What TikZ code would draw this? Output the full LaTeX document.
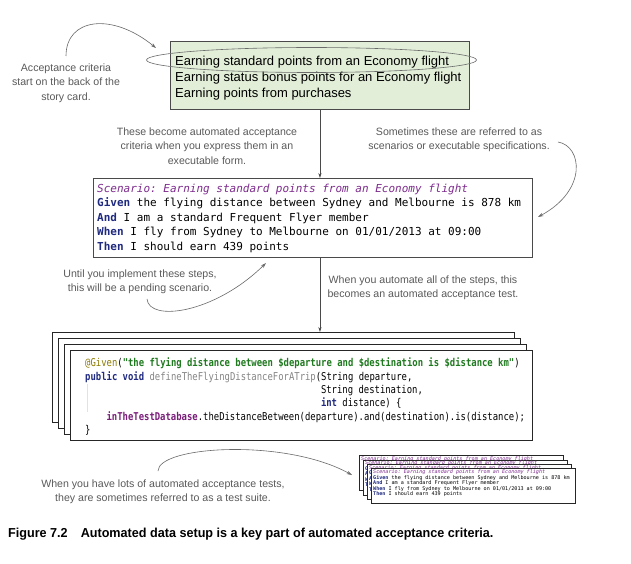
\documentclass[tikz,border=0pt]{standalone}
\usepackage{fontspec}
\setmainfont{Liberation Sans}
\newfontfamily\scenmono{DejaVu Sans Mono}
\newfontfamily\codemono[FakeStretch=0.825]{DejaVu Sans Mono}
\newfontfamily\capfont[FakeStretch=0.97]{Liberation Sans}
\usetikzlibrary{arrows.meta,shapes.geometric}
\frenchspacing
\definecolor{cardgreen}{HTML}{E2EED8}
\definecolor{boxline}{HTML}{4A4A4A}
\definecolor{annot}{HTML}{5A5A5A}
\definecolor{curve}{HTML}{6A6A6A}
\definecolor{scpurple}{HTML}{7E2C8E}
\definecolor{kwblue}{HTML}{1F2A80}
\definecolor{strgreen}{HTML}{1F7A1F}
\definecolor{anncol}{HTML}{8C7A00}
\definecolor{fngray}{HTML}{858585}
\definecolor{dbpurple}{HTML}{7A1E7A}
\definecolor{guide}{HTML}{E2E2E2}
\newcommand{\ScnA}{\textcolor{scpurple}{\itshape Scenario: Earning standard points from an Economy flight}}
\newcommand{\ScnB}{\textcolor{kwblue}{\bfseries Given} the flying distance between Sydney and Melbourne is 878 km}
\newcommand{\ScnC}{\textcolor{kwblue}{\bfseries And} I am a standard Frequent Flyer member}
\newcommand{\ScnD}{\textcolor{kwblue}{\bfseries When} I fly from Sydney to Melbourne on 01/01/2013 at 09:00}
\newcommand{\ScnE}{\textcolor{kwblue}{\bfseries Then} I should earn 439 points}
\newcommand{\ScnLetters}{\textcolor{kwblue}{\bfseries G}\\\textcolor{kwblue}{\bfseries A}\\\textcolor{kwblue}{\bfseries W}\\\textcolor{kwblue}{\bfseries T}}
\begin{document}
\begin{tikzpicture}[x=1pt,y=-1pt,
  note/.style={text=annot,align=center,font=\fontsize{10.6}{14.5}\selectfont,inner sep=0},
  storyline/.style={anchor=base west,inner sep=0,font=\fontsize{13}{16}\selectfont},
  scenline/.style={anchor=base west,inner sep=0,font=\scenmono\fontsize{11}{14}\selectfont},
  codeline/.style={anchor=base west,inner sep=0,font=\codemono\fontsize{10.8}{13}\selectfont},
  codecard/.style={draw=black!85,line width=0.8pt,fill=white,anchor=north west,minimum width=462,minimum height=90,inner sep=0},
  minicard/.style={draw=black!85,line width=0.6pt,fill=white,anchor=north west,minimum width=204,minimum height=35,inner sep=0},
  minitext/.style={anchor=north west,inner sep=0,align=left,font=\scenmono\fontsize{5.1}{5.5}\selectfont},
  conn/.style={draw=boxline,line width=0.7pt,-{Stealth[length=5pt,width=3.2pt]}},
  curvy/.style={draw=curve,line width=0.6pt,-{Stealth[length=5.5pt,width=3.5pt]}}]
\useasboundingbox (0,0) rectangle (631,564);
\fill[white] (0,0) rectangle (631,564);

% story card
\node[draw=boxline,line width=0.9pt,fill=cardgreen,anchor=north west,minimum width=299,minimum height=68,inner sep=0] (story) at (170,41) {};
\node[storyline] (t1) at (175,65.5) {Earning standard points from an Economy flight};
\node[storyline] (t2) at (175,81.5) {Earning status bonus points for an Economy flight};
\node[storyline] (t3) at (175,98) {Earning points from purchases};
\node[ellipse,draw=curve,line width=0.6pt,minimum width=330,minimum height=25,inner sep=0] (hl) at (311.5,60) {};

% annotation top-left
\node[note] (n1) at (66,83) {Acceptance criteria\\start on the back of the\\story card.};
\coordinate (n1s) at (66,56);
\coordinate (n1e) at (156,48);
\draw[curvy] (n1s) .. controls (66,18) and (112,12) .. (n1e);

% scenario box
\node[draw=boxline,line width=0.9pt,fill=white,anchor=north west,minimum width=439,minimum height=79,inner sep=0] (scen) at (93,178) {};
\node[scenline] (s1) at (97,192) {\ScnA};
\node[scenline] (s2) at (97,206.5) {\ScnB};
\node[scenline] (s3) at (97,221) {\ScnC};
\node[scenline] (s4) at (97,235.5) {\ScnD};
\node[scenline] (s5) at (97,250) {\ScnE};

\draw[conn] (story.south) -- (story.south |- scen.north);

\node[note] (n2) at (207,146) {These become automated acceptance\\criteria when you express them in an\\executable form.};
\node[note] (n3) at (459,140) {Sometimes these are referred to as\\scenarios or executable specifications.};
\coordinate (n3s) at (558,142);
\coordinate (n3e) at (538,217);
\draw[curvy] (n3s) .. controls (582,146) and (588,190) .. (n3e);

\node[note] (n4) at (140,282) {Until you implement these steps,\\this will be a pending scenario.};
\coordinate (n4s) at (147,299);
\coordinate (n4e) at (266,263);
\draw[curvy] (n4s) .. controls (149,322) and (214,314) .. (n4e);

\node[note] (n5) at (423,288) {When you automate all of the steps, this\\becomes an automated acceptance test.};

% code stack
\node[codecard] (cardA) at (52,332) {};
\node[codecard] (cardB) at (58,338) {};
\node[codecard] (cardC) at (64,344) {};
\node[codecard] (cardD) at (70,350) {};
\draw[conn] (story.south |- scen.south) -- (story.south |- cardA.north);
\draw[guide,line width=0.6pt] (87,384) -- (87,412);
\node[codeline] (c1) at (85,366.6) {\textcolor{anncol}{@Given}(\textcolor{strgreen}{\bfseries "the flying distance between \$departure and \$destination is \$distance km"})};
\node[codeline] (c2) at (85,380) {\textcolor{kwblue}{\bfseries public void} \textcolor{fngray}{defineTheFlyingDistanceForATrip}(String departure,};
\node[codeline] (c3) at (320.8,393.3) {String destination,};
\node[codeline] (c4) at (320.8,406.6) {\textcolor{kwblue}{\bfseries int} distance) \{};
\node[codeline] (c5) at (106.4,420) {\textcolor{dbpurple}{\bfseries inTheTestDatabase}.theDistanceBetween(departure).and(destination).is(distance);};
\node[codeline] (c6) at (85,433.3) {\}};

% test suite
\node[note] (n6) at (163,492) {When you have lots of automated acceptance tests,\\they are sometimes referred to as a test suite.};
\node[minicard] (mA) at (359,455) {};
\node[minitext] (mAt) at (361,456.2) {\ScnA};
\node[minicard] (mB) at (363,459.5) {};
\node[minitext] (mBt) at (365,460.7) {\ScnA};
\node[minitext] (mBl) at (365,466.2) {\ScnLetters};
\node[minicard] (mC) at (367,464) {};
\node[minitext] (mCt) at (369,465.2) {\ScnA};
\node[minitext] (mCl) at (369,470.7) {\ScnLetters};
\node[minicard] (mD) at (371,468) {};
\node[minitext] (mDt) at (373,469.5) {\ScnA\\\ScnB\\\ScnC\\\ScnD\\\ScnE};
\coordinate (n6s) at (158,471);
\coordinate (n6e) at (352,475);
\draw[curvy] (n6s) .. controls (158,446) and (285,438) .. (n6e);

% caption
\node[anchor=base west,inner sep=0,font=\capfont\bfseries\fontsize{13}{15}\selectfont] (cap) at (8,537) {Figure 7.2\hspace{13pt}Automated data setup is a key part of automated acceptance criteria.};
\end{tikzpicture}
\end{document}
